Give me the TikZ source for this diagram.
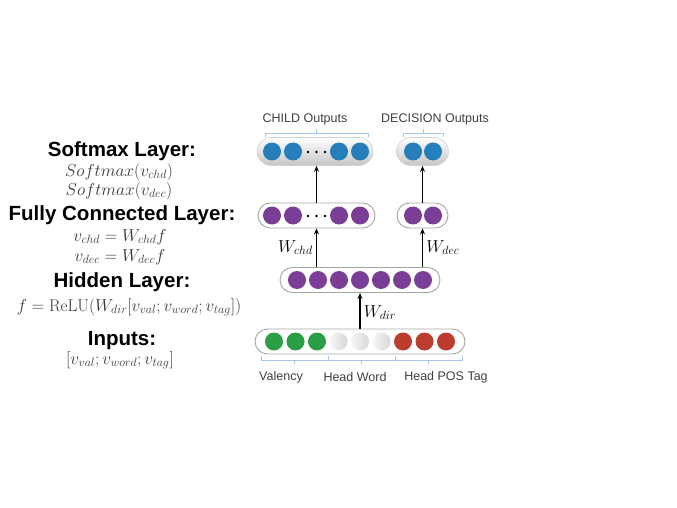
\documentclass[tikz,border=0pt]{standalone}
\usepackage{fontspec}
\setsansfont{Liberation Sans}
\usepackage{amsmath}
\usepackage{tikz}
\usetikzlibrary{positioning, arrows.meta}
\definecolor{ballblue}{RGB}{38,126,186}
\definecolor{ballpurple}{RGB}{122,62,150}
\definecolor{ballgreen}{RGB}{42,158,68}
\definecolor{ballred}{RGB}{188,60,46}
\definecolor{braceblue}{RGB}{165,198,230}

\begin{document}
\begin{tikzpicture}[x=1pt, y=-1pt, >={Stealth[length=6pt, width=5pt]},
  layer/.style={draw=gray!70, line width=0.9pt, rounded corners=12.5pt, minimum height=25pt},
  outbox/.style={draw=gray!35, line width=0.6pt, top color=white, bottom color=gray!45, rounded corners=14pt, minimum height=28pt},
  ball/.style={circle, inner sep=0pt, minimum size=18pt},
  heading/.style={font=\sffamily\bfseries\fontsize{20.5}{22}\selectfont},
  eqn/.style={text=black!78, font=\fontsize{17}{19}\selectfont},
  wlabel/.style={font=\fontsize{16.5}{18}\selectfont},
  tag/.style={text=black!75, font=\sffamily\fontsize{12.5}{14}\selectfont},
  brace/.style={draw=braceblue, line width=0.7pt},
  link/.style={->, line width=1.1pt}]
\useasboundingbox (0,0) rectangle (677,508);

% left column: layer names and formulas
\node[heading] (softhead) at (122,151) {Softmax Layer:};
\node[eqn] (softchd) at (119,172) {$Softmax(v_{chd})$};
\node[eqn] (softdec) at (119,191) {$Softmax(v_{dec})$};
\node[heading] (fchead) at (122,215) {Fully Connected Layer:};
\node[eqn] (fcchd) at (120,237) {$v_{chd} = W_{chd}f$};
\node[eqn] (fcdec) at (120,257) {$v_{dec} = W_{dec}f$};
\node[heading] (hidhead) at (122,282) {Hidden Layer:};
\node[eqn] (hideq) at (129,307) {$f = \mathrm{ReLU}(W_{dir}[v_{val}; v_{word}; v_{tag}])$};
\node[heading] (inhead) at (122,341) {Inputs:};
\node[eqn] (ineq) at (120,360) {$[v_{val}; v_{word}; v_{tag}]$};

% output layer
\node[outbox, minimum width=116pt] (chdout) at (315,151.5) {};
\node[outbox, minimum width=52pt] (decout) at (422.5,151.5) {};
\foreach \x [count=\i] in {272,293,339,360}
  \node[ball, fill=ballblue] (co\i) at (\x,151.5) {};
\foreach \x in {308,316.5,325}
  \fill (\x,152) circle (1.3pt);
\foreach \x [count=\i] in {413,433}
  \node[ball, fill=ballblue] (do\i) at (\x,151.5) {};

% fully connected layer
\node[layer, minimum width=117pt] (chdfc) at (316.5,215.5) {};
\node[layer, minimum width=51pt] (decfc) at (422.5,215.5) {};
\foreach \x [count=\i] in {272,293,339,360}
  \node[ball, fill=ballpurple] (cf\i) at (\x,215.5) {};
\foreach \x in {308,316.5,325}
  \fill (\x,216) circle (1.3pt);
\foreach \x [count=\i] in {413,433}
  \node[ball, fill=ballpurple] (df\i) at (\x,215.5) {};

% hidden layer
\node[layer, minimum width=160pt] (hidden) at (360,280) {};
\foreach \i in {1,...,7}
  \node[ball, fill=ballpurple] (h\i) at ({297+21*(\i-1)},280) {};

% input layer
\node[layer, minimum width=210pt] (inputs) at (360,341.5) {};
\foreach \i in {1,2,3}
  \node[ball, fill=ballgreen] (in\i) at ({274+21.5*(\i-1)},341.5) {};
\foreach \i in {4,5,6}
  \node[ball, left color=gray!6, right color=gray!32] (in\i) at ({274+21.5*(\i-1)},341.5) {};
\foreach \i in {7,8,9}
  \node[ball, fill=ballred] (in\i) at ({274+21.5*(\i-1)},341.5) {};

% connections
\draw[link] (inputs.north) -- node[right, wlabel, pos=0.45] {$W_{dir}$} (hidden.south);
\draw[link] (chdfc.south |- hidden.north) -- node[left, wlabel] {$W_{chd}$} (chdfc.south);
\draw[link] (decfc.south |- hidden.north) -- node[right, wlabel] {$W_{dec}$} (decfc.south);
\draw[link] (chdfc.north) -- (chdfc.north |- chdout.south);
\draw[link] (decfc.north) -- (decfc.north |- decout.south);

% output brackets and names
\draw[brace] (265,137) -- (265,133) -- (368,133) -- (368,137) (316.5,133) -- (316.5,129);
\draw[brace] (403,137) -- (403,133) -- (443,133) -- (443,137) (423,133) -- (423,129);
\node[tag] (chdname) at (305,119) {CHILD Outputs};
\node[tag] (decname) at (435,119) {DECISION Outputs};

% input brackets and names
\foreach \a/\b in {261/328,328/395,395/462}
  \draw[brace] (\a,356) -- (\a,360.5) -- (\b,360.5) -- (\b,356) ({(\a+\b)/2},360.5) -- ({(\a+\b)/2},364);
\node[tag] (valname) at (281,377) {Valency};
\node[tag] (wordname) at (355,377) {Head Word};
\node[tag] (posname) at (446,377) {Head POS Tag};
\end{tikzpicture}
\end{document}
